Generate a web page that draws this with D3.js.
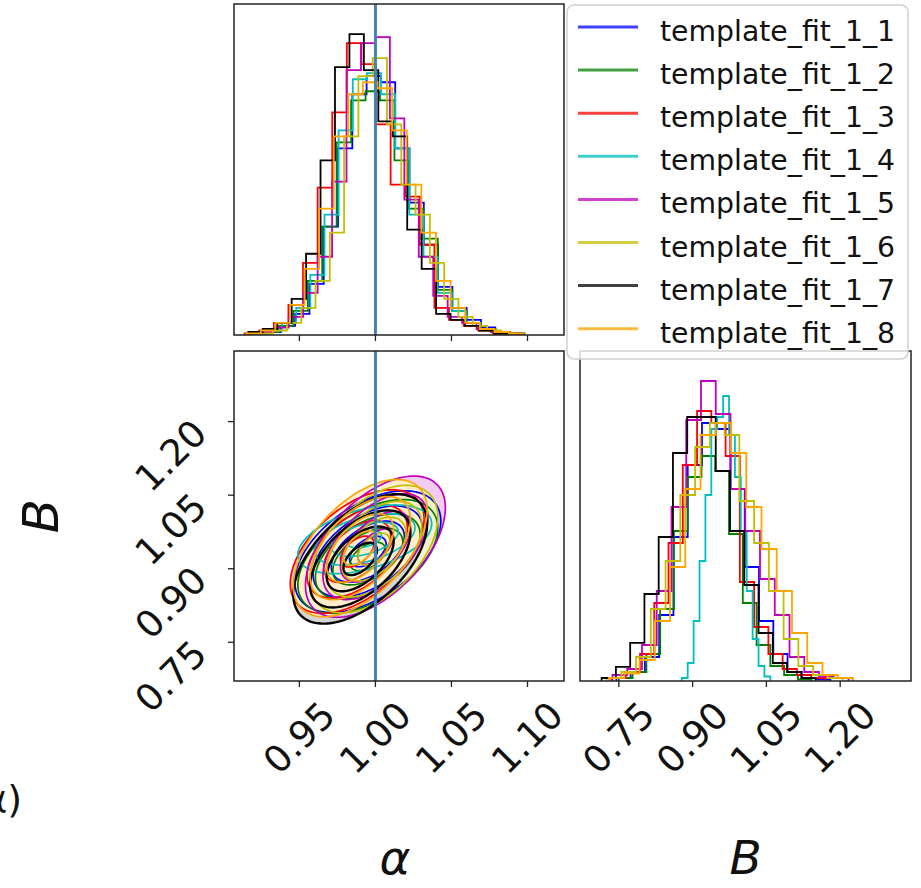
<!DOCTYPE html>
<html>
<head>
<meta charset="utf-8">
<script src="https://cdn.jsdelivr.net/npm/d3@7/dist/d3.min.js"></script>
<style>
  body { margin: 0; background: #fff; }
  svg { display: block; font-family: "DejaVu Sans", sans-serif; }
</style>
</head>
<body>
<div id="chart"></div>
<script>
// series names and colours (legend order)
var names = ['template_fit_1_1', 'template_fit_1_2', 'template_fit_1_3', 'template_fit_1_4',
             'template_fit_1_5', 'template_fit_1_6', 'template_fit_1_7', 'template_fit_1_8'];
var colors = ['#0000ff', '#008000', '#ff0000', '#00bfbf', '#bf00bf', '#bfbf00', '#000000', '#ffa500'];

// alpha marginal histograms: first bin edge, bin width, counts
var alphaStart = [0.9190, 0.9175, 0.9140, 0.9200, 0.9240, 0.9230, 0.9164, 0.9150];
var alphaWidth = [0.0094, 0.0095, 0.0096, 0.0093, 0.0095, 0.0094, 0.0095, 0.0096];
var alphaCounts = [
  [0.5, 1, 3, 7, 17, 36, 62, 80, 86, 84, 62, 44, 30, 16, 9, 5, 2.5, 1, 0.5],
  [0.5, 1, 3, 8, 18, 36, 64, 78, 81, 78, 58, 42, 32, 15, 8, 4, 2, 1, 0.5],
  [0.5, 1.5, 4, 10, 24, 49, 74, 97, 90, 70, 50, 46, 30, 9, 5, 3, 1.5, 0.5],
  [0.5, 1.5, 4, 9, 20, 40, 68, 85, 87, 80, 62, 40, 26, 14, 8, 4, 2, 1],
  [1, 2.5, 6, 14, 26, 51, 88, 97, 99, 72, 45, 26, 13, 6, 4, 2, 1, 0.5],
  [0.5, 1.5, 4, 9, 18, 34, 66, 86, 92, 70, 50, 40, 24, 12, 6, 3, 1.5, 0.5],
  [1, 2, 4, 12, 27, 58, 89, 100, 88, 71, 66, 35, 22, 7, 5, 3, 1.5, 0.5],
  [0.5, 1.5, 4, 10, 22, 42, 66, 80, 84, 82, 68, 50, 34, 18, 9, 4, 2, 1, 0.5]
];

// B marginal histograms: first bin edge, bin width, counts
var bStart = [0.745, 0.750, 0.735, 0.878, 0.737, 0.725, 0.715, 0.730];
var bWidth = [0.029, 0.028, 0.029, 0.012, 0.030, 0.030, 0.029, 0.031];
var bCounts = [
  [1, 3, 8, 22, 48, 72, 86, 84, 64, 38, 20, 9, 3, 1, 0.5],
  [1, 3, 9, 24, 50, 68, 75, 70, 49, 26, 12, 5, 2, 0.5],
  [1, 3, 9, 26, 46, 72, 90, 86, 75, 33, 18, 9, 4, 2, 1],
  [1, 6, 20, 40, 62, 84, 88, 95, 82, 68, 50, 30, 14, 5, 1.5],
  [2, 4, 12, 30, 58, 87, 100, 89, 64, 50, 34, 22, 8, 3, 1.5, 1],
  [1, 3, 8, 24, 40, 62, 78, 86, 82, 60, 46, 30, 14, 5, 2, 1],
  [1, 4.7, 12.7, 29, 48, 76, 88, 88, 70, 50, 32, 16, 6, 3, 1],
  [1, 2.5, 7, 20, 38, 64, 82, 86, 76, 58, 44, 30, 16, 6, 2, 1]
];

// 2D posterior (alpha, B): mean, spread and correlation of each fit
var meanAlpha = [0.995, 0.995, 0.988, 0.993, 1.000, 0.999, 0.990, 0.990];
var meanB     = [0.935, 0.925, 0.935, 0.960, 0.945, 0.940, 0.920, 0.942];
var sdAlpha   = [0.024, 0.023, 0.022, 0.022, 0.023, 0.021, 0.022, 0.022];
var sdB       = [0.062, 0.058, 0.063, 0.035, 0.072, 0.065, 0.066, 0.070];
var rho       = [0.50, 0.50, 0.52, 0.45, 0.55, 0.50, 0.55, 0.55];
var sigmaLevels = [0.5, 1, 1.5, 2];

var alphaTicks = [0.95, 1.00, 1.05, 1.10];
var bTicks = [0.75, 0.90, 1.05, 1.20];
var alphaTruth = 1.0;
var alphaDomain = [0.907, 1.124];
var bDomain = [0.671, 1.344];

var W = 921, H = 888;
var svg = d3.select('#chart').append('svg').attr('width', W).attr('height', H);

// panel boxes
var pTL = {x: 234, y: 4, w: 330, h: 331};
var pBL = {x: 234, y: 351, w: 330, h: 330};
var pBR = {x: 580, y: 351, w: 331, h: 330};

var xA = d3.scaleLinear().domain(alphaDomain).range([pTL.x, pTL.x + pTL.w]);
var xB = d3.scaleLinear().domain(bDomain).range([pBR.x, pBR.x + pBR.w]);
var yB = d3.scaleLinear().domain(bDomain).range([pBL.y + pBL.h, pBL.y]);
var yHA = d3.scaleLinear().domain([0, 110]).range([pTL.y + pTL.h, pTL.y]);
var yHB = d3.scaleLinear().domain([0, 110]).range([pBR.y + pBR.h, pBR.y]);

var defs = svg.append('defs');
function clip(id, p) {
  defs.append('clipPath').attr('id', id).append('rect')
    .attr('x', p.x).attr('y', p.y).attr('width', p.w).attr('height', p.h);
}
clip('cTL', pTL); clip('cBL', pBL); clip('cBR', pBR);

// step outline the way matplotlib draws histtype='step'
function stepPoints(start, width, counts) {
  var pts = [[start, 0]];
  counts.forEach(function(c, k) { pts.push([start + k * width, c]); });
  pts.push([start + counts.length * width, 0]);
  return pts;
}

// top-left: alpha histograms
var gTL = svg.append('g').attr('clip-path', 'url(#cTL)');
var lineA = d3.line().x(function(d) { return xA(d[0]); }).y(function(d) { return yHA(d[1]); })
  .curve(d3.curveStepAfter);
names.forEach(function(n, i) {
  gTL.append('path')
    .attr('d', lineA(stepPoints(alphaStart[i], alphaWidth[i], alphaCounts[i])))
    .attr('fill', 'none').attr('stroke', colors[i]).attr('stroke-width', 1.8);
});
gTL.append('line')
  .attr('x1', xA(alphaTruth)).attr('x2', xA(alphaTruth))
  .attr('y1', pTL.y).attr('y2', pTL.y + pTL.h)
  .attr('stroke', '#4682b4').attr('stroke-width', 3);

// bottom-right: B histograms
var gBR = svg.append('g').attr('clip-path', 'url(#cBR)');
var lineB = d3.line().x(function(d) { return xB(d[0]); }).y(function(d) { return yHB(d[1]); })
  .curve(d3.curveStepAfter);
names.forEach(function(n, i) {
  gBR.append('path')
    .attr('d', lineB(stepPoints(bStart[i], bWidth[i], bCounts[i])))
    .attr('fill', 'none').attr('stroke', colors[i]).attr('stroke-width', 1.8);
});

// bottom-left: sigma contours
var gBL = svg.append('g').attr('clip-path', 'url(#cBL)');
var ellipseLine = d3.line().x(function(d) { return xA(d[0]); }).y(function(d) { return yB(d[1]); })
  .curve(d3.curveLinearClosed);
var angles = d3.range(0, 2 * Math.PI, Math.PI / 60);
function ellipse(i, r) {
  var s = Math.sqrt(1 - rho[i] * rho[i]);
  return angles.map(function(t) {
    return [meanAlpha[i] + r * sdAlpha[i] * Math.cos(t),
            meanB[i] + r * sdB[i] * (rho[i] * Math.cos(t) + s * Math.sin(t))];
  });
}
names.forEach(function(n, i) {
  gBL.append('path')
    .attr('d', ellipseLine(ellipse(i, sigmaLevels[sigmaLevels.length - 1])))
    .attr('fill', d3.interpolateRgb('#ffffff', colors[i])(i === 6 ? 0.17 : 0.2))
    .attr('stroke', 'none');
});
names.forEach(function(n, i) {
  sigmaLevels.forEach(function(r) {
    gBL.append('path')
      .attr('d', ellipseLine(ellipse(i, r)))
      .attr('fill', 'none').attr('stroke', colors[i])
      .attr('stroke-width', i === 6 ? 2.4 : 1.7);
  });
});
gBL.append('line')
  .attr('x1', xA(alphaTruth)).attr('x2', xA(alphaTruth))
  .attr('y1', pBL.y).attr('y2', pBL.y + pBL.h)
  .attr('stroke', '#4682b4').attr('stroke-width', 3);

// frames
[pTL, pBL, pBR].forEach(function(p) {
  svg.append('rect').attr('x', p.x).attr('y', p.y).attr('width', p.w).attr('height', p.h)
    .attr('fill', 'none').attr('stroke', '#222').attr('stroke-width', 1.5);
});

// ticks
var fmt = d3.format('.2f');
function xTicks(scale, ticks, yBase, labels) {
  ticks.forEach(function(t) {
    svg.append('line').attr('x1', scale(t)).attr('x2', scale(t))
      .attr('y1', yBase).attr('y2', yBase + 6).attr('stroke', '#222').attr('stroke-width', 1.3);
    if (labels) {
      svg.append('text')
        .attr('transform', 'translate(' + scale(t) + ',' + (yBase + 57) + ') rotate(-45)')
        .attr('text-anchor', 'middle').attr('dominant-baseline', 'central')
        .attr('font-size', 37).attr('fill', '#111').text(fmt(t));
    }
  });
}
xTicks(xA, alphaTicks, pTL.y + pTL.h, false);
xTicks(xA, alphaTicks, pBL.y + pBL.h, true);
xTicks(xB, bTicks, pBR.y + pBR.h, true);
bTicks.forEach(function(t) {
  svg.append('line').attr('x1', pBL.x - 6).attr('x2', pBL.x)
    .attr('y1', yB(t)).attr('y2', yB(t)).attr('stroke', '#222').attr('stroke-width', 1.3);
  svg.append('text')
    .attr('transform', 'translate(' + (pBL.x - 25) + ',' + (yB(t) + 14) + ') rotate(-45)')
    .attr('text-anchor', 'end')
    .attr('font-size', 37).attr('fill', '#111').text(fmt(t));
});

// axis labels
svg.append('text').attr('x', pBL.x + pBL.w / 2 - 4).attr('y', 874)
  .attr('text-anchor', 'middle').attr('font-size', 47).attr('font-style', 'italic')
  .attr('fill', '#111').text('α');
svg.append('text').attr('x', pBR.x + pBR.w / 2).attr('y', 874)
  .attr('text-anchor', 'middle').attr('font-size', 47).attr('font-style', 'italic')
  .attr('fill', '#111').text('B');
svg.append('text')
  .attr('transform', 'translate(58,' + (pBL.y + pBL.h / 2) + ') rotate(-90)')
  .attr('text-anchor', 'middle').attr('font-size', 50).attr('font-style', 'italic')
  .attr('fill', '#111').text('B');
// clipped label remnant at the far left edge, as in the source image
svg.append('text').attr('x', 22).attr('y', 812)
  .attr('text-anchor', 'end').attr('font-size', 38).attr('fill', '#111').text('α)');

// legend
var leg = svg.append('g');
leg.append('rect').attr('x', 567).attr('y', 5).attr('width', 341).attr('height', 354)
  .attr('rx', 7).attr('fill', '#fff').attr('fill-opacity', 0.8)
  .attr('stroke', '#d0d0d0').attr('stroke-width', 1.5);
names.forEach(function(n, i) {
  var yy = 27 + i * 43.1;
  leg.append('line').attr('x1', 578).attr('x2', 638).attr('y1', yy).attr('y2', yy)
    .attr('stroke', colors[i]).attr('stroke-width', 3).attr('stroke-opacity', 0.75);
  leg.append('text').attr('x', 660).attr('y', yy + 14)
    .attr('font-size', 28.3).attr('fill', '#111').text(n);
});
</script>
</body>
</html>
